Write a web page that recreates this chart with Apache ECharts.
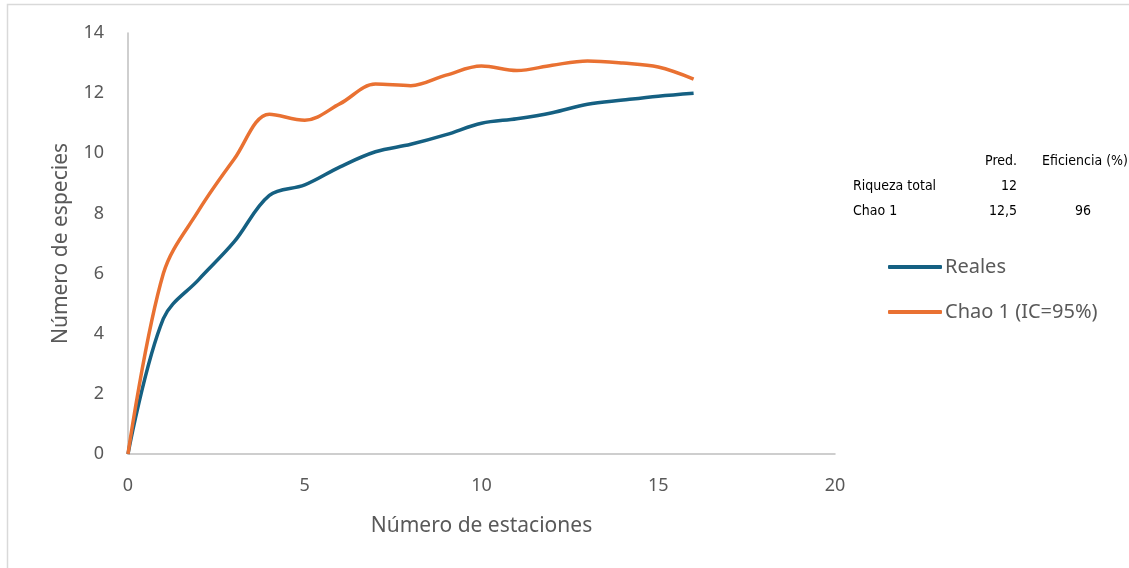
<!DOCTYPE html>
<html>
<head>
<meta charset="utf-8">
<script src="https://cdn.jsdelivr.net/npm/echarts@6/dist/echarts.min.js"></script>
<style>
html,body{margin:0;padding:0;background:#fff;}
#chart{width:1129px;height:568px;}
</style>
</head>
<body>
<div id="chart"></div>
<script>
var estaciones = [0, 1, 2, 3, 4, 5, 6, 7, 8, 9, 10, 11, 12, 13, 14, 15, 16];
var reales = [0, 4.5, 5.8, 7.05, 8.6, 8.95, 9.55, 10.05, 10.3, 10.62, 11.0, 11.15, 11.35, 11.63, 11.77, 11.9, 12.0];
var chao1 = [0, 6.0, 8.1, 9.8, 11.3, 11.1, 11.65, 12.3, 12.25, 12.6, 12.9, 12.75, 12.93, 13.07, 13.0, 12.87, 12.47];
var seriesNames = ['Reales', 'Chao 1 (IC=95%)'];
var xTitle = 'Número de estaciones';
var yTitle = 'Número de especies';
var tableHeader = ['', 'Pred.', 'Eficiencia (%)'];
var tableRows = [['Riqueza total', '12', ''], ['Chao 1', '12,5', '96']];

function pairs(xs, ys) { return xs.map(function (x, i) { return [x, ys[i]]; }); }

var font = 'Noto Sans, Liberation Sans, sans-serif';
var tableFont = '"Liberation Sans Narrow", "DejaVu Sans Condensed", "Liberation Sans", sans-serif';
var graphics = [
  { type: 'polyline', shape: { points: [[7.5, 580], [7.5, 4.5], [1140, 4.5]] }, style: { stroke: '#d9d9d9', lineWidth: 1.5, fill: null }, silent: true }
];
var tfont = '14px ' + tableFont;
graphics.push({ type: 'text', x: 1017, y: 161, style: { text: tableHeader[1], font: tfont, fill: '#000', align: 'right', verticalAlign: 'middle' } });
graphics.push({ type: 'text', x: 1042, y: 161, style: { text: tableHeader[2], font: tfont, fill: '#000', align: 'left', verticalAlign: 'middle' } });
tableRows.forEach(function (row, i) {
  var y = 186 + i * 25;
  graphics.push({ type: 'text', x: 853, y: y, style: { text: row[0], font: tfont, fill: '#000', align: 'left', verticalAlign: 'middle' } });
  graphics.push({ type: 'text', x: 1017, y: y, style: { text: row[1], font: tfont, fill: '#000', align: 'right', verticalAlign: 'middle' } });
  if (row[2]) graphics.push({ type: 'text', x: 1083, y: y, style: { text: row[2], font: tfont, fill: '#000', align: 'center', verticalAlign: 'middle' } });
});

var chart = echarts.init(document.getElementById('chart'));
chart.setOption({
  animation: false,
  backgroundColor: '#fff',
  grid: { left: 128, right: 294, top: 33, bottom: 114 },
  legend: {
    orient: 'vertical', left: 883, top: 250, itemWidth: 54, itemHeight: 4, itemGap: 21,
    icon: 'roundRect',
    textStyle: { fontFamily: font, fontSize: 20, color: '#595959', padding: [0, 0, 0, -2], lineHeight: 24 },
    data: seriesNames
  },
  xAxis: {
    type: 'value', min: 0, max: 20, interval: 5,
    name: xTitle, nameLocation: 'middle', nameGap: 62,
    nameTextStyle: { fontFamily: font, fontSize: 21, color: '#595959' },
    axisLine: { show: true, lineStyle: { color: '#bfbfbf', width: 1.5 } },
    axisTick: { show: false },
    axisLabel: { fontFamily: font, fontSize: 18, color: '#595959', margin: 23 },
    splitLine: { show: false }
  },
  yAxis: {
    type: 'value', min: 0, max: 14, interval: 2,
    name: yTitle, nameLocation: 'middle', nameGap: 56,
    nameTextStyle: { fontFamily: font, fontSize: 21, color: '#595959' },
    axisLine: { show: true, lineStyle: { color: '#bfbfbf', width: 1.5 } },
    axisTick: { show: false },
    axisLabel: { fontFamily: font, fontSize: 18, color: '#595959', margin: 24 },
    splitLine: { show: false }
  },
  series: [
    { name: seriesNames[0], type: 'line', data: pairs(estaciones, reales), smooth: 0.35, symbol: 'none', showSymbol: false, lineStyle: { color: '#156082', width: 3.5 }, itemStyle: { color: '#156082' } },
    { name: seriesNames[1], type: 'line', data: pairs(estaciones, chao1), smooth: 0.35, symbol: 'none', showSymbol: false, lineStyle: { color: '#E97132', width: 3.5 }, itemStyle: { color: '#E97132' } }
  ],
  graphic: graphics
});
</script>
</body>
</html>
